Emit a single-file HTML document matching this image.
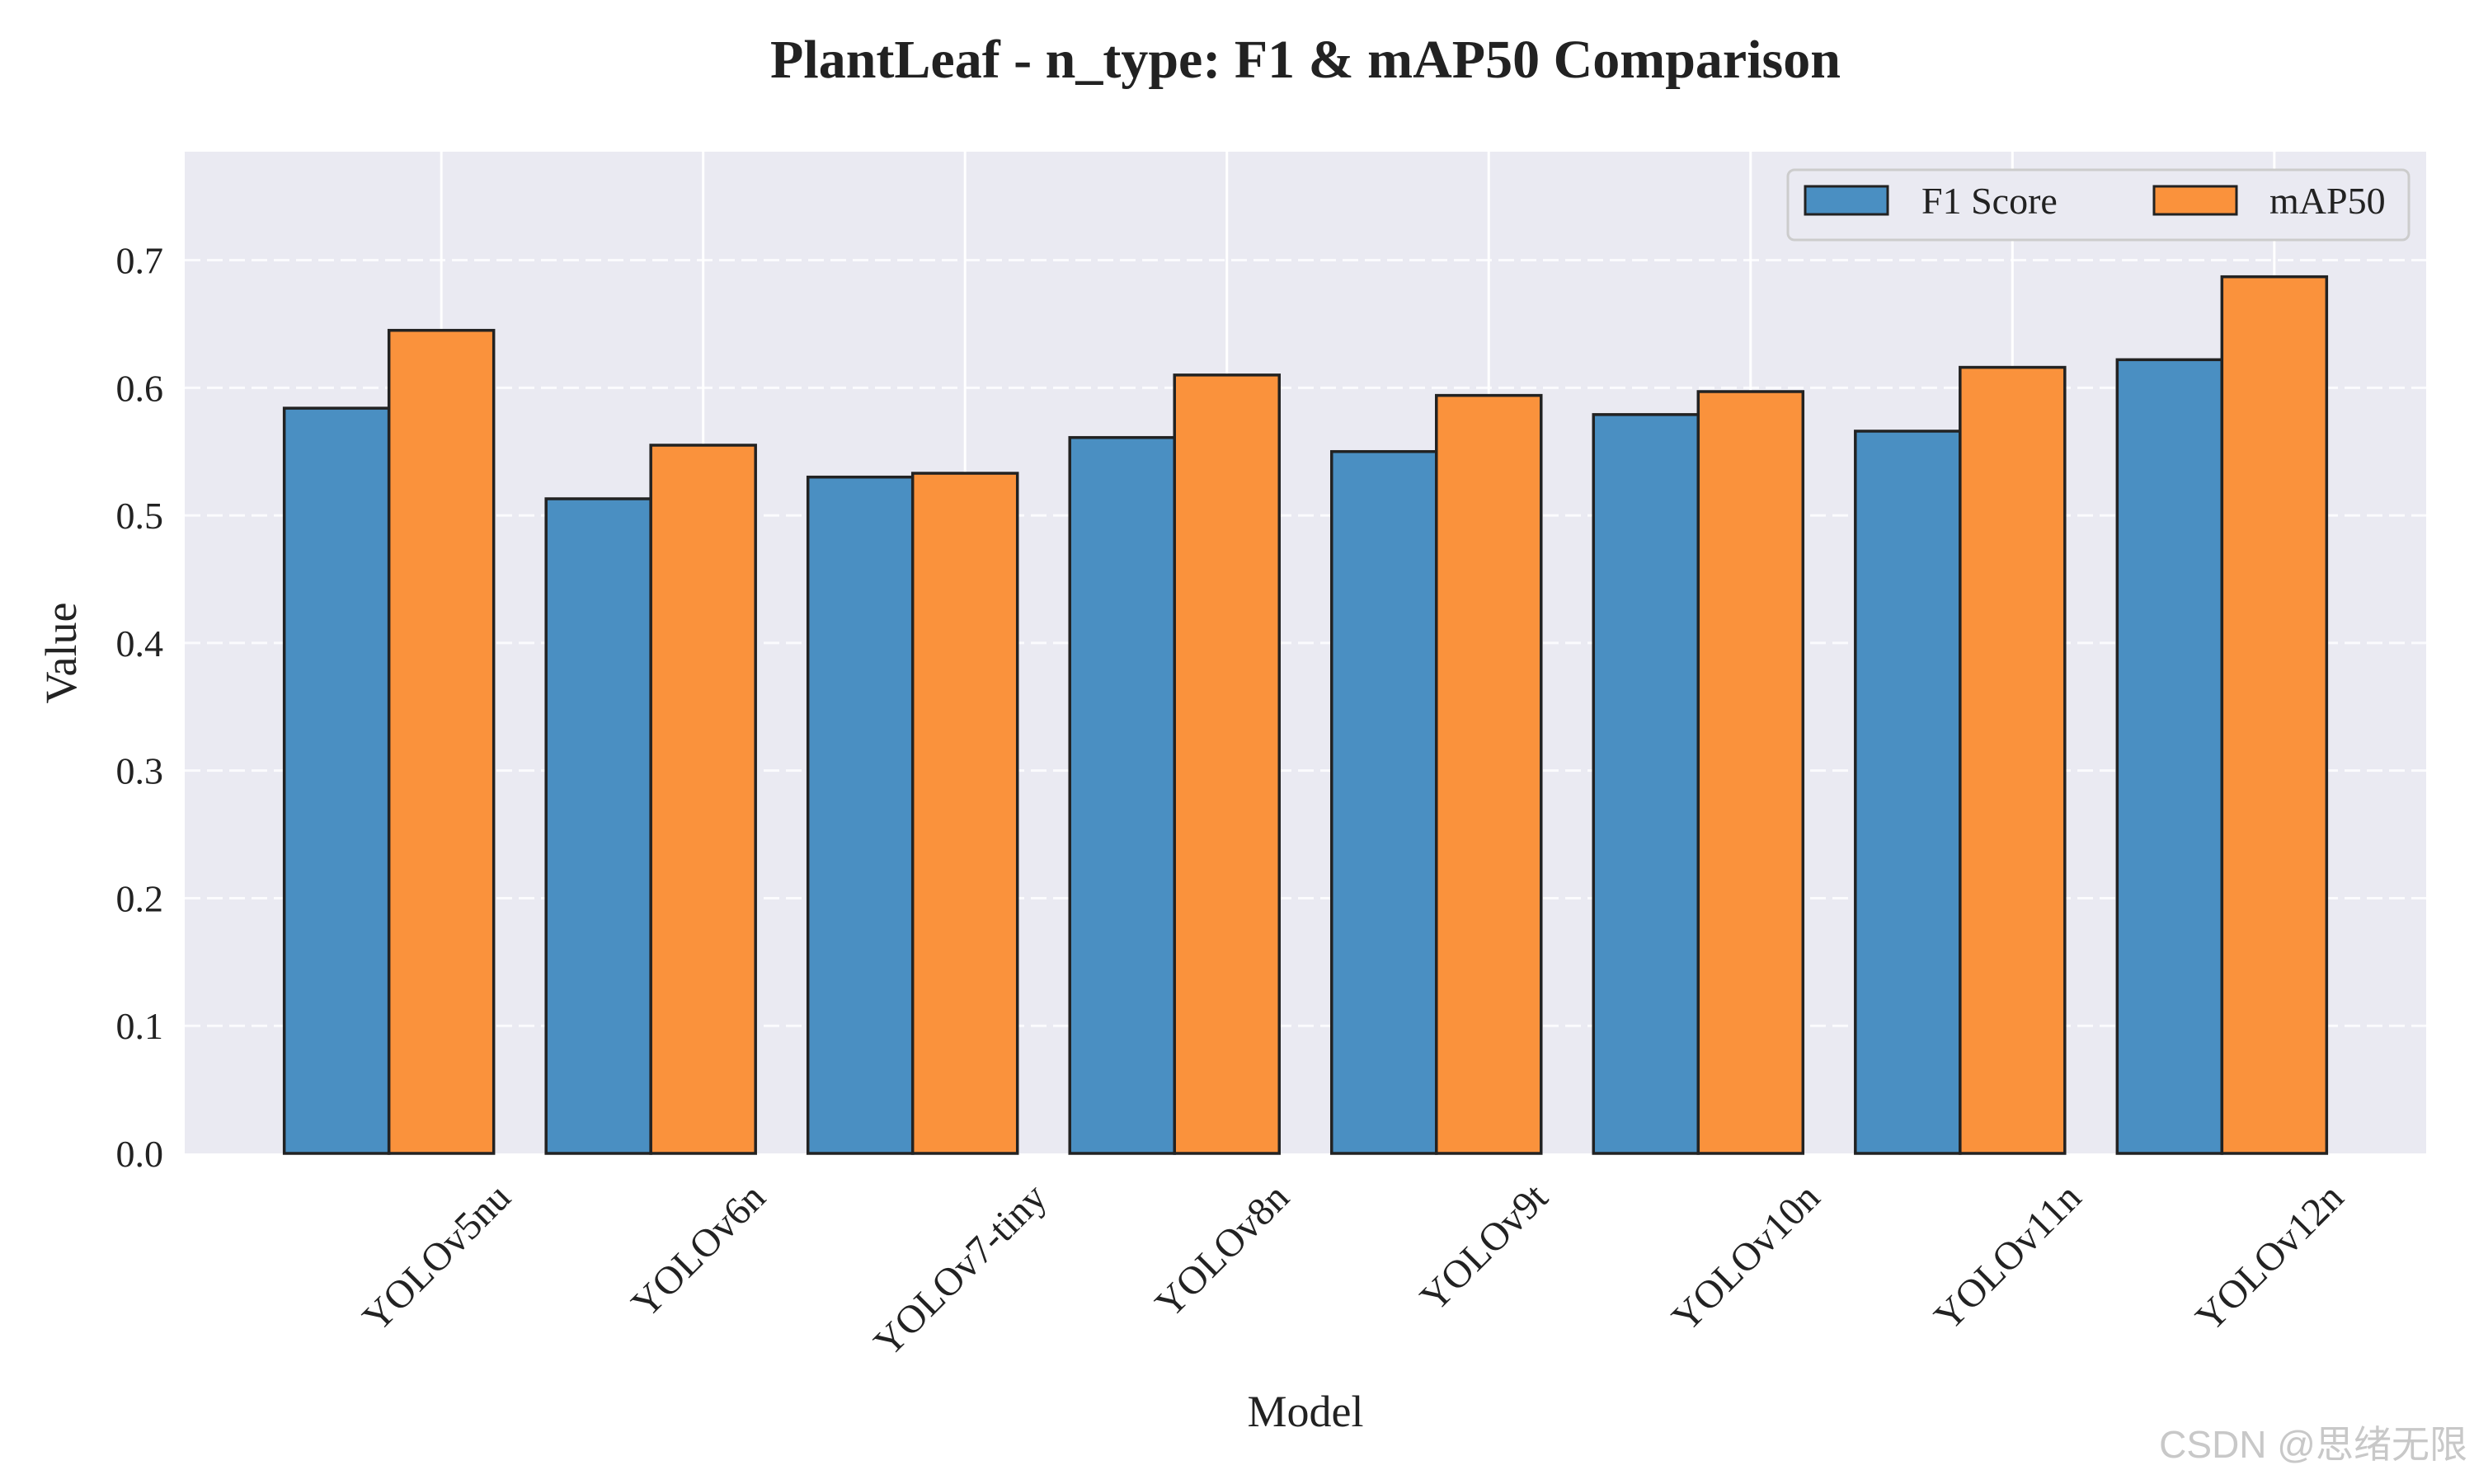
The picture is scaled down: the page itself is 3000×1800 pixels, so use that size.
<!DOCTYPE html>
<html><head><meta charset="utf-8">
<style>
html,body{margin:0;padding:0;background:#fff;}
svg{display:block;font-family:"Liberation Serif","Noto Serif CJK SC",serif;}
</style></head>
<body>
<svg id="chart" width="3000" height="1800" viewBox="0 0 3000 1800" xmlns="http://www.w3.org/2000/svg">
  <rect x="0" y="0" width="3000" height="1800" fill="#ffffff"/>
  <text x="1583" y="94" text-anchor="middle" font-size="66" font-weight="bold" fill="#222">PlantLeaf - n_type: F1 &amp; mAP50 Comparison</text>
  <rect x="224" y="184" width="2718" height="1215" fill="#eaeaf2"/>
  <g id="vgrid"></g>
  <g id="hgrid"></g>
  <g id="bars"></g>
  <g id="yticks"></g>
  <g id="xticks"></g>
  <text x="0" y="0" transform="translate(92,792) rotate(-90)" text-anchor="middle" font-size="54" fill="#222">Value</text>
  <text x="1583" y="1730" text-anchor="middle" font-size="54" fill="#222">Model</text>
  <g>
    <rect x="2168" y="206" width="753" height="85" rx="8" fill="#eaeaf2" stroke="#cccccc" stroke-width="3"/>
    <rect x="2189" y="226" width="100" height="34" fill="#4a8fc2" stroke="#222" stroke-width="3"/>
    <text x="2330" y="259" font-size="46" fill="#222">F1 Score</text>
    <rect x="2612" y="226" width="100" height="34" fill="#fa923c" stroke="#222" stroke-width="3"/>
    <text x="2752" y="259" font-size="46" fill="#222">mAP50</text>
  </g>
  <text x="2992" y="1768" text-anchor="end" font-size="46" fill="#c8c8c8" font-family="'Liberation Sans','Noto Sans CJK SC',sans-serif">CSDN @思绪无限</text>
</svg>
<script>
const categories = ["YOLOv5nu","YOLOv6n","YOLOv7-tiny","YOLOv8n","YOLOv9t","YOLOv10n","YOLOv11n","YOLOv12n"];
const f1Values = [0.584,0.513,0.530,0.561,0.550,0.579,0.566,0.622];
const map50Values = [0.645,0.555,0.533,0.610,0.594,0.597,0.616,0.687];
const yTickValues = [0.0,0.1,0.2,0.3,0.4,0.5,0.6,0.7];
const yTickLabels = ["0.0","0.1","0.2","0.3","0.4","0.5","0.6","0.7"];

const NS = "http://www.w3.org/2000/svg";
const plotL = 224, plotR = 2942, plotT = 184, plotB = 1399;
const yMax = 0.785;
const xMin = -0.98, xMax = 7.58;
const barW = 0.4;
function yScale(v){ return plotB - (v / yMax) * (plotB - plotT); }
function xScale(i){ return plotL + (i - xMin) / (xMax - xMin) * (plotR - plotL); }
function mk(tag, attrs, parent){ const e = document.createElementNS(NS, tag); for (const k in attrs) e.setAttribute(k, attrs[k]); parent.appendChild(e); return e; }

const vgrid = document.getElementById('vgrid');
const hgrid = document.getElementById('hgrid');
const bars = document.getElementById('bars');
const yticks = document.getElementById('yticks');
const xticks = document.getElementById('xticks');

categories.forEach((c, i) => {
  const x = xScale(i);
  const g = mk('line', {x1:x, x2:x, y1:plotT, y2:plotB, stroke:'#ffffff', 'stroke-width':3}, vgrid);
  
  
});
yTickValues.forEach((v, i) => {
  const y = yScale(v);
  if (v > 0) {
    const l = mk('line', {x1:plotL, x2:plotR, y1:y, y2:y, stroke:'#ffffff', 'stroke-width':3, 'stroke-dasharray':'19,8', opacity:0.85}, hgrid);
    
    
  }
  const t = mk('text', {x:plotL - 26, y:y + 16, 'text-anchor':'end', 'font-size':46, fill:'#222'}, yticks);
  t.textContent = yTickLabels[i];
  
  
});
categories.forEach((c, i) => {
  const x0 = xScale(i - 1.5 * barW), x1 = xScale(i - 0.5 * barW), x2 = xScale(i + 0.5 * barW);
  const yb = yScale(f1Values[i]);
  const b1 = mk('rect', {x:x0, y:yb, width:x1 - x0, height:plotB - yb, fill:'#4a8fc2', stroke:'#222', 'stroke-width':3.5}, bars);
  
  
  const ym = yScale(map50Values[i]);
  const b2 = mk('rect', {x:x1, y:ym, width:x2 - x1, height:plotB - ym, fill:'#fa923c', stroke:'#222', 'stroke-width':3.5}, bars);
  
  
});
categories.forEach((c, i) => {
  const x = xScale(i);
  const t = mk('text', {x:0, y:0, 'text-anchor':'middle', 'font-size':48, fill:'#222'}, xticks);
  t.textContent = c;
  
  
  const w = t.getComputedTextLength();
  const h = (w + 48) * Math.SQRT1_2;
  const cy = plotB + 28 + h / 2;
  t.setAttribute('transform', 'translate(' + (x - 6) + ',' + cy + ') rotate(-45) translate(0,16)');
});
</script>
</body></html>
